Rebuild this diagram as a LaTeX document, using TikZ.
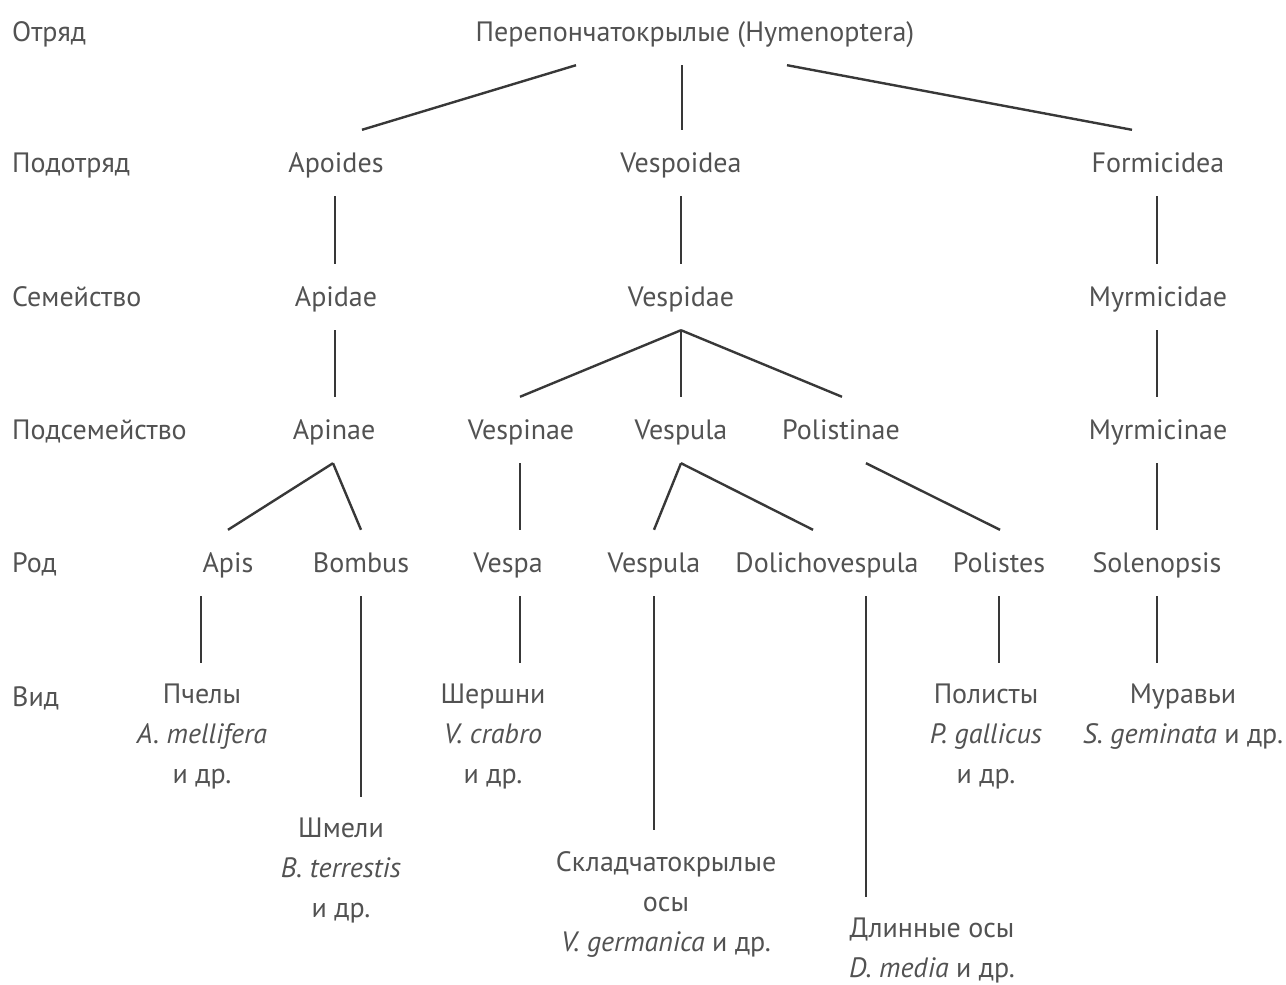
\documentclass[tikz,border=0pt]{standalone}
\usepackage{fontspec}
\setmainfont{PT Sans}
\begin{document}
\begin{tikzpicture}[x=1pt,y=-1pt,
  tx/.style={font=\fontsize{28}{40}\selectfont, text=black!68, inner sep=0pt,
    text height=23pt, text depth=5pt, minimum height=66pt},
  lbl/.style={tx, anchor=west},
  sp/.style={font=\fontsize{28}{40}\selectfont, text=black!68, inner xsep=0pt, inner ysep=21pt, anchor=north, align=center},
  ln/.style={draw=black!78, line width=2.4pt}]
\useasboundingbox (0,0) rectangle (1286,985);
% rank labels
\node[lbl] (r1) at (12,32) {Отряд};
\node[lbl] (r2) at (12,163) {Подотряд};
\node[lbl] (r3) at (12,297) {Семейство};
\node[lbl] (r4) at (12,430) {Подсемейство};
\node[lbl] (r5) at (12,563) {Род};
\node[lbl] (r6) at (12,697) {Вид};
% order
\node[tx] (hym) at (695,32) {Перепончатокрылые (Hymenoptera)};
% suborders
\node[tx] (apo) at (336,163) {Apoides};
\node[tx] (vesp) at (681,163) {Vespoidea};
\node[tx] (form) at (1158,163) {Formicidea};
% families
\node[tx] (apid) at (336,297) {Apidae};
\node[tx] (vespid) at (681,297) {Vespidae};
\node[tx] (myrm) at (1158,297) {Myrmicidae};
% subfamilies
\node[tx] (apin) at (334,430) {Apinae};
\node[tx] (vespin) at (521,430) {Vespinae};
\node[tx] (vspsub) at (681,430) {Vespula};
\node[tx] (polin) at (841,430) {Polistinae};
\node[tx] (myrmin) at (1158,430) {Myrmicinae};
% genera
\node[tx] (apis) at (228,563) {Apis};
\node[tx] (bomb) at (361,563) {Bombus};
\node[tx] (vespa) at (508,563) {Vespa};
\node[tx] (vspg) at (654,563) {Vespula};
\node[tx] (doli) at (827,563) {Dolichovespula};
\node[tx] (poles) at (999,563) {Polistes};
\node[tx] (solen) at (1157,563) {Solenopsis};
% species
\node[sp] (pch) at (202,663) {Пчелы\\\textit{A. mellifera}\\и др.};
\node[sp] (shm) at (341,797) {Шмели\\\textit{B. terrestis}\\и др.};
\node[sp] (sher) at (493,663) {Шершни\\\textit{V. crabro}\\и др.};
\node[sp] (skl) at (666,830) {Складчатокрылые\\осы\\\textit{V. germanica} и др.};
\node[sp] (dl) at (932,897) {Длинные осы\\\textit{D. media} и др.};
\node[sp] (pol) at (986,663) {Полисты\\\textit{P. gallicus}\\и др.};
\node[sp] (mur) at (1183,663) {Муравьи\\\textit{S. geminata} и др.};
% connectors
\draw[ln] ([xshift=-119pt]hym.south) -- ([xshift=26pt]apo.north);
\draw[ln] ([xshift=-13pt]hym.south) -- ([xshift=1pt]vesp.north);
\draw[ln] ([xshift=92pt]hym.south) -- ([xshift=-26pt]form.north);
\draw[ln] ([xshift=-1pt]apo.south) -- ([xshift=-1pt]apid.north);
\draw[ln] (vesp.south) -- (vespid.north);
\draw[ln] ([xshift=-1pt]form.south) -- ([xshift=-1pt]myrm.north);
\draw[ln] ([xshift=-1pt]apid.south) -- ([xshift=1pt]apin.north);
\draw[ln] (vespid.south) -- ([xshift=-1pt]vespin.north);
\draw[ln] (vespid.south) -- (vspsub.north);
\draw[ln] (vespid.south) -- ([xshift=1pt]polin.north);
\draw[ln] ([xshift=-1pt]myrm.south) -- ([xshift=-1pt]myrmin.north);
\draw[ln] ([xshift=-1pt]apin.south) -- (apis.north);
\draw[ln] ([xshift=-1pt]apin.south) -- (bomb.north);
\draw[ln] ([xshift=-1pt]vespin.south) -- ([xshift=12pt]vespa.north);
\draw[ln] (vspsub.south) -- (vspg.north);
\draw[ln] (vspsub.south) -- ([xshift=-14pt]doli.north);
\draw[ln] ([xshift=25pt]polin.south) -- ([xshift=1pt]poles.north);
\draw[ln] ([xshift=-1pt]myrmin.south) -- (solen.north);
\draw[ln] (apis.south -| pch.north) ++(-1pt,0) -- ([xshift=-1pt]pch.north);
\draw[ln] (bomb.south) -- (bomb.south |- shm.north);
\draw[ln] ([xshift=12pt]vespa.south) -- ([xshift=12pt]vespa.south |- sher.north);
\draw[ln] (vspg.south) -- (vspg.south |- skl.north);
\draw[ln] ([xshift=39pt]doli.south) -- ([xshift=39pt]doli.south |- dl.north);
\draw[ln] (poles.south) -- (poles.south |- pol.north);
\draw[ln] (solen.south) -- (solen.south |- mur.north);
\end{tikzpicture}
\end{document}
